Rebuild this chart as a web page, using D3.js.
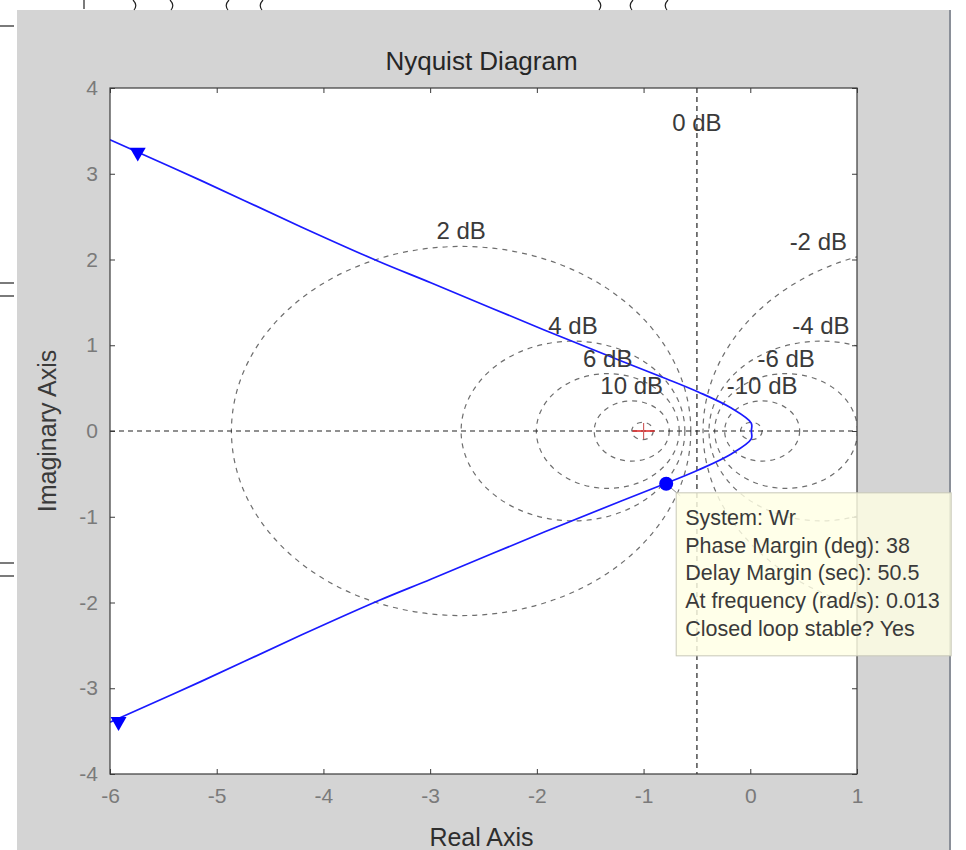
<!DOCTYPE html>
<html>
<head>
<meta charset="utf-8">
<script src="https://cdn.jsdelivr.net/npm/d3@7"></script>
<style>
  html, body { margin: 0; padding: 0; background: #fff; }
  svg { display: block; font-family: "Liberation Sans", Arial, sans-serif; }
</style>
</head>
<body>
<div id="chart"></div>
<script>
// ---- data ----
const xTicks = [-6, -5, -4, -3, -2, -1, 0, 1];
const yTicks = [-4, -3, -2, -1, 0, 1, 2, 3, 4];

// M-circle grid levels (dB) and which ones carry a label
const gridDb = [-20, -10, -6, -4, -2, 2, 4, 6, 10, 20];
const labelDb = [-10, -6, -4, -2, 2, 4, 6, 10];

// positive-frequency branch of the Nyquist curve (lower half), low w -> high w
const curveRe = [-6.3, -5.99, -5.145, -4.208, -3.486, -2.988, -1.931, -1.209, -0.788, -0.487, -0.178, 0.009, 0.01];
const curveIm = [-3.56, -3.39, -2.92, -2.38, -1.98, -1.726, -1.178, -0.816, -0.61, -0.455, -0.268, -0.093, 0];

// direction arrows
const arrowRe = [-5.74, -5.92];
const arrowIm = [3.25, -3.39];

// phase margin point + datatip
const pmRe = -0.788, pmIm = -0.616;
const tipLines = [
  "System: Wr",
  "Phase Margin (deg): 38",
  "Delay Margin (sec): 50.5",
  "At frequency (rad/s): 0.013",
  "Closed loop stable? Yes"
];

// ---- layout ----
const W = 966, H = 850;
const margin = { top: 88, right: 109, bottom: 76, left: 110 };
const width = W - margin.left - margin.right;
const height = H - margin.top - margin.bottom;

const svg = d3.select("#chart").append("svg")
  .attr("width", W)
  .attr("height", H);

// gray figure panel
svg.append("rect")
  .attr("x", 17).attr("y", 10)
  .attr("width", 933).attr("height", H - 10)
  .attr("fill", "#d4d4d4");
svg.append("line")
  .attr("x1", 950).attr("x2", 950).attr("y1", 10).attr("y2", H)
  .attr("stroke", "#8a8f98").attr("stroke-width", 2);

// stray bits of the page around the figure
const deco = svg.append("g").attr("stroke", "#222").attr("fill", "none").attr("stroke-width", 1.2);
[26, 283, 296, 563, 576].forEach(yy => {
  deco.append("line").attr("x1", 0).attr("x2", 14).attr("y1", yy).attr("y2", yy);
});
[[84, 0], [133, -1], [170, -1], [229, 1], [263, 1], [598, -1], [633, 1], [668, 1]].forEach(([px, dir]) => {
  if (dir === 0) {
    deco.append("line").attr("x1", px).attr("x2", px).attr("y1", 0).attr("y2", 9);
  } else {
    deco.append("path").attr("d", `M${px},0 Q${px - dir * 5},5 ${px - dir * 1},10`);
  }
});

const g = svg.append("g")
  .attr("transform", `translate(${margin.left},${margin.top})`);

const x = d3.scaleLinear().domain([-6, 1]).range([0, width]);
const y = d3.scaleLinear().domain([-4, 4]).range([height, 0]);

g.append("rect")
  .attr("width", width).attr("height", height)
  .attr("fill", "#fff");

g.append("clipPath").attr("id", "clip")
  .append("rect").attr("width", width).attr("height", height);

const plot = g.append("g").attr("clip-path", "url(#clip)");

// ----- M-circles -----
const circ = gridDb.map(db => {
  const M = Math.pow(10, db / 20);
  return { db, c: -M * M / (M * M - 1), r: Math.abs(M / (M * M - 1)) };
});

plot.selectAll(".mcircle")
  .data(circ)
  .enter()
  .append("ellipse")
  .attr("class", "mcircle")
  .attr("cx", d => x(d.c))
  .attr("cy", y(0))
  .attr("rx", d => x(d.c + d.r) - x(d.c))
  .attr("ry", d => y(0) - y(d.r))
  .attr("fill", "none")
  .attr("stroke", "#6e6e6e")
  .attr("stroke-width", 1.2)
  .attr("stroke-dasharray", "5,5");

// 0 dB line and real axis
plot.append("line")
  .attr("x1", x(-0.5)).attr("x2", x(-0.5))
  .attr("y1", 0).attr("y2", height)
  .attr("stroke", "#222").attr("stroke-width", 1.2)
  .attr("stroke-dasharray", "5,4");
plot.append("line")
  .attr("x1", 0).attr("x2", width)
  .attr("y1", y(0)).attr("y2", y(0))
  .attr("stroke", "#222").attr("stroke-width", 1.2)
  .attr("stroke-dasharray", "5,4");

// dB labels at the top of each circle
const labelG = g.append("g")
  .attr("font-size", 24)
  .attr("fill", "#3a3a3a");

circ.filter(d => labelDb.includes(d.db)).forEach(d => {
  if (d.c > 1) {
    // circle top is off the right edge: put label where it leaves the box
    const dx = 1 - d.c;
    const yy = Math.sqrt(d.r * d.r - dx * dx);
    labelG.append("text")
      .attr("x", x(1) - 10).attr("y", y(yy) - 7)
      .attr("text-anchor", "end")
      .text(`${d.db} dB`);
  } else {
    labelG.append("text")
      .attr("x", x(d.c)).attr("y", y(d.r) - 7)
      .attr("text-anchor", "middle")
      .text(`${d.db} dB`);
  }
});
labelG.append("text")
  .attr("x", x(-0.5)).attr("y", y(3.5))
  .attr("text-anchor", "middle")
  .text("0 dB");

// critical point
plot.append("line")
  .attr("x1", x(-1) - 11).attr("x2", x(-1) + 11)
  .attr("y1", y(0)).attr("y2", y(0))
  .attr("stroke", "#e03030").attr("stroke-width", 1.6);
plot.append("line")
  .attr("x1", x(-1)).attr("x2", x(-1))
  .attr("y1", y(0) - 8).attr("y2", y(0) + 8)
  .attr("stroke", "#d06060").attr("stroke-width", 1.2);

// ----- Nyquist curve -----
const pts = [];
curveRe.forEach((re, i) => pts.push([re, -curveIm[i]]));
for (let i = curveRe.length - 2; i >= 0; i--) pts.push([curveRe[i], curveIm[i]]);

const line = d3.line()
  .x(d => x(d[0]))
  .y(d => y(d[1]))
  .curve(d3.curveCatmullRom.alpha(0.5));

plot.append("path")
  .attr("d", line(pts))
  .attr("fill", "none")
  .attr("stroke", "#1a1aff")
  .attr("stroke-width", 1.7);

// arrows (pointing down)
const tri = d3.symbol().type(d3.symbolTriangle).size(110);
plot.selectAll(".arrow")
  .data(arrowRe.map((re, i) => [re, arrowIm[i]]))
  .enter()
  .append("path")
  .attr("class", "arrow")
  .attr("d", tri)
  .attr("transform", d => `translate(${x(d[0])},${y(d[1])}) rotate(180)`)
  .attr("fill", "#0000ff");

// ----- frame + ticks -----
g.append("rect")
  .attr("width", width).attr("height", height)
  .attr("fill", "none")
  .attr("stroke", "#3a3a3a").attr("stroke-width", 1.2);

const fmt = d => String(d);

const xAxis = g.append("g")
  .attr("transform", `translate(0,${height})`)
  .call(d3.axisBottom(x).tickValues(xTicks).tickSizeInner(-5).tickSizeOuter(0).tickPadding(14).tickFormat(fmt));
const yAxis = g.append("g")
  .call(d3.axisLeft(y).tickValues(yTicks).tickSizeInner(-5).tickSizeOuter(0).tickPadding(12).tickFormat(fmt));
g.append("g")
  .call(d3.axisTop(x).tickValues(xTicks).tickSizeInner(-5).tickSizeOuter(0).tickFormat(""));
g.append("g")
  .attr("transform", `translate(${width},0)`)
  .call(d3.axisRight(y).tickValues(yTicks).tickSizeInner(-5).tickSizeOuter(0).tickFormat(""));

g.selectAll(".domain").remove();
g.selectAll(".tick line").attr("stroke", "#3a3a3a");
[xAxis, yAxis].forEach(a => a.selectAll("text")
  .attr("font-size", 21)
  .attr("font-family", "Liberation Sans, Arial, sans-serif")
  .attr("fill", "#7a7a7a"));

// ----- titles -----
svg.append("text")
  .attr("x", margin.left + width / 2 - 2).attr("y", 70)
  .attr("text-anchor", "middle")
  .attr("font-size", 26)
  .attr("fill", "#262626")
  .text("Nyquist Diagram");

svg.append("text")
  .attr("x", margin.left + width / 2 - 2).attr("y", 846)
  .attr("text-anchor", "middle")
  .attr("font-size", 25)
  .attr("fill", "#2e2e2e")
  .text("Real Axis");

svg.append("text")
  .attr("transform", `translate(56,${margin.top + height / 2}) rotate(-90)`)
  .attr("text-anchor", "middle")
  .attr("font-size", 25)
  .attr("fill", "#3a3a3a")
  .text("Imaginary Axis");

// ----- datatip -----
const px = margin.left + x(pmRe), py = margin.top + y(pmIm);
svg.append("line")
  .attr("x1", px).attr("y1", py).attr("x2", px + 14).attr("y2", py + 12)
  .attr("stroke", "#888").attr("stroke-width", 1);

const tip = svg.append("g").attr("transform", `translate(${px + 10},${py + 9})`);
tip.append("rect")
  .attr("width", 275).attr("height", 163)
  .attr("fill", "#ffffe4").attr("fill-opacity", 0.82)
  .attr("stroke", "#c8c8b8").attr("stroke-width", 1);
tip.selectAll("text")
  .data(tipLines)
  .enter()
  .append("text")
  .attr("x", 9)
  .attr("y", (d, i) => 32 + i * 27.8)
  .attr("font-size", 21.5)
  .attr("fill", "#3a3a3a")
  .text(d => d);

svg.append("circle")
  .attr("cx", px).attr("cy", py).attr("r", 7)
  .attr("fill", "#0000ff");
</script>
</body>
</html>
